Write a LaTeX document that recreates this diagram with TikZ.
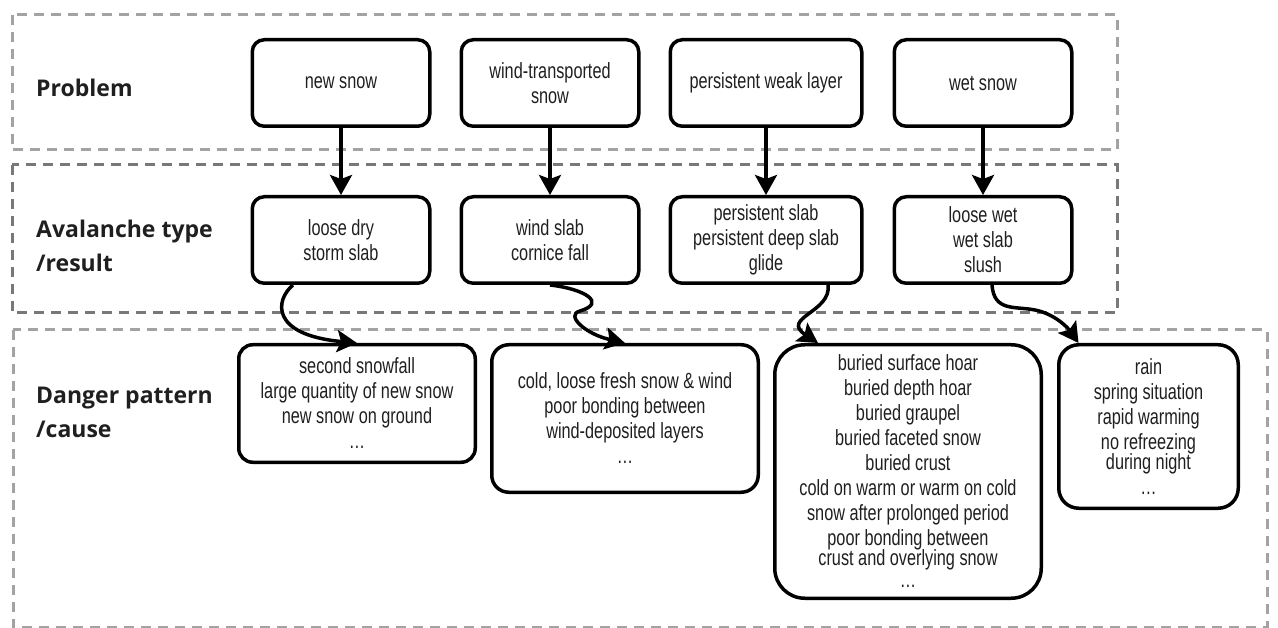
\documentclass[tikz,border=0pt]{standalone}
\usepackage{fontspec}
\usetikzlibrary{arrows.meta,positioning}
\newfontfamily\boxfont[FakeStretch=0.74]{Liberation Sans}
\newfontfamily\headfont{Open Sans}
\definecolor{framelight}{gray}{0.64}
\definecolor{framedark}{gray}{0.47}
\definecolor{ink}{gray}{0.12}

\begin{document}
\begin{tikzpicture}[x=1pt, y=1pt, node distance=67pt,
  line/.style={-{Stealth[length=20pt,width=22pt,inset=4pt]}, line width=3.5pt},
  box/.style={rectangle, draw, line width=3.5pt, rounded corners=12pt, align=center, text=ink, font=\boxfont\fontsize{22pt}{25pt}\selectfont, minimum width=177.5pt, minimum height=86.5pt, inner sep=2pt},
  lbl/.style={anchor=base west, align=left, inner sep=0pt, text=ink, font=\headfont\bfseries\fontsize{23pt}{34pt}\selectfont},
  frame/.style={dash pattern=on 10pt off 7pt, line width=3pt}]
\useasboundingbox (0,0) rectangle (1278,-628);
% layers
\draw[frame, draw=framelight] (12,-15) rectangle (1117,-150);
\draw[frame, draw=framedark] (12,-165) rectangle (1117,-313);
\draw[frame, draw=framelight] (13,-330) rectangle (1267,-627);
\node[lbl] (lprob) at (36,-97) {Problem};
\node[lbl] (ltype) at (36,-272) {Avalanche type\\/result};
\node[lbl] (lcause) at (36,-438) {Danger pattern\\/cause};
% problem row
\node[box] (r1a) at (341,-83) {new snow};
\node[box] (r1b) at (550,-83) {wind-transported\\snow};
\node[box, minimum width=191.5pt] (r1c) at (766,-83) {persistent weak layer};
\node[box] (r1d) at (983,-83) {wet snow};
% avalanche type row
\node[box, below=of r1a] (r2a) {loose dry\\storm slab};
\node[box, below=of r1b] (r2b) {wind slab\\cornice fall};
\node[box, minimum width=191.5pt, below=of r1c] (r2c) {persistent slab\\persistent deep slab\\glide};
\node[box, below=of r1d] (r2d) {loose wet\\wet slab\\slush};
% danger pattern row
\node[box, rounded corners=14pt, minimum width=236.5pt, minimum height=117.5pt] (r3a) at (357,-403.5) {second snowfall\\large quantity of new snow\\new snow on ground\\\dots};
\node[box, rounded corners=17pt, minimum width=266.5pt, minimum height=147.5pt] (r3b) at (625,-418.5) {cold, loose fresh snow \& wind\\poor bonding between\\wind-deposited layers\\\dots};
\node[box, rounded corners=30pt, minimum width=266.5pt, minimum height=253.5pt] (r3c) at (908,-471.5) {buried surface hoar\\buried depth hoar\\buried graupel\\buried faceted snow\\buried crust\\cold on warm or warm on cold\\snow after prolonged period\\poor bonding between\\[-5pt]crust and overlying snow\\[-3pt]\dots};
\node[box, rounded corners=20pt, minimum width=179.5pt, minimum height=163.5pt] (r3d) at (1148.5,-426.5) {rain\\spring situation\\rapid warming\\no refreezing\\[-5pt]during night\\\dots};
% arrows
\draw[line] (r1a.south) -- (r2a.north);
\draw[line] (r1b.south) -- (r2b.north);
\draw[line] (r1c.south) -- (r2c.north);
\draw[line] (r1d.south) -- (r2d.north);
\draw[line] ([xshift=-48pt]r2a.south) .. controls (275,-300) and (270,-335) .. (r3a.north);
\draw[line] (r2b.south) .. controls (585,-289) and (607,-303) .. (580,-311) .. controls (565,-315) and (585,-334) .. (r3b.north);
\draw[line] ([xshift=62pt]r2c.south) .. controls (832,-312) and (780,-318) .. ([xshift=-90pt]r3c.north);
\draw[line] ([xshift=9pt]r2d.south) .. controls (994,-312) and (1015,-306) .. (1035,-310) .. controls (1055,-314) and (1068,-328) .. ([xshift=-70pt]r3d.north);
\end{tikzpicture}
\end{document}
